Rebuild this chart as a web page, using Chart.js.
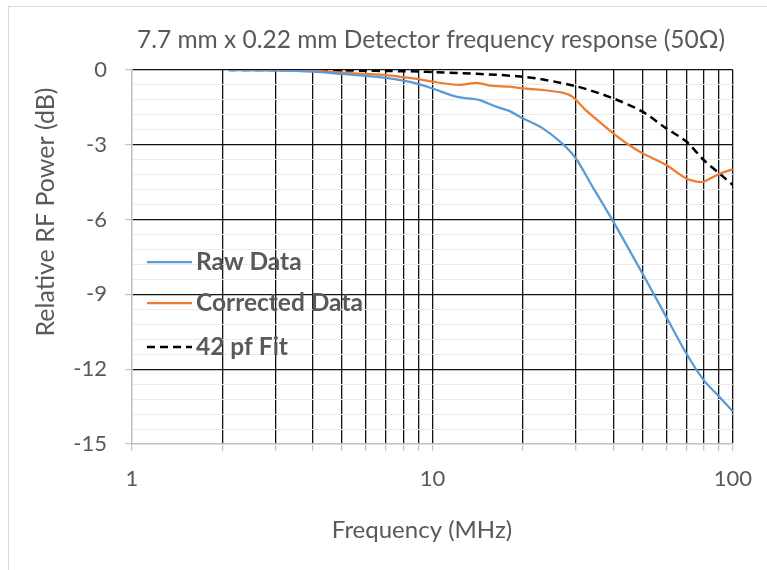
<!DOCTYPE html>
<html>
<head>
<meta charset="utf-8">
<script src="https://cdn.jsdelivr.net/npm/chart.js@4.4.1/dist/chart.umd.min.js"></script>
<style>
  html, body { margin: 0; padding: 0; background: #fff; }
  #wrap { width: 767px; height: 570px; }
</style>
</head>
<body>
<div id="wrap"><canvas id="chart" width="767" height="570"></canvas></div>
<script>
// --- Data (frequency in MHz, response in dB) ---
const rawFreq = [2.1, 3, 4, 5, 6, 7, 8, 9, 10, 12, 13.6, 14.3, 16.3, 18, 20, 23.3, 27, 30, 34.1, 40, 50, 60, 70, 80, 90, 100];
const rawDb = [0, -0.02, -0.07, -0.16, -0.24, -0.32, -0.43, -0.57, -0.74, -1.07, -1.16, -1.2, -1.47, -1.64, -1.94, -2.34, -2.94, -3.54, -4.68, -6.08, -8.16, -9.9, -11.37, -12.44, -13.1, -13.7];

const corrFreq = [2.1, 3, 4, 5, 6, 7, 8, 9, 10, 12.3, 14, 15.9, 18, 20, 23.3, 27, 29.2, 32.3, 35.9, 40, 45, 50, 60, 70, 78.3, 81, 90, 100];
const corrDb = [0, -0.01, -0.03, -0.11, -0.16, -0.21, -0.29, -0.37, -0.47, -0.6, -0.52, -0.64, -0.67, -0.74, -0.8, -0.91, -1.07, -1.6, -2.07, -2.54, -3.0, -3.34, -3.81, -4.35, -4.5, -4.45, -4.17, -3.98];

const fitFreq = [2.1, 3, 4, 5, 6, 7, 8, 9, 10, 20, 30, 40, 50, 60, 70, 80, 90, 100];
const fitDb = [0, 0, -0.01, -0.02, -0.03, -0.04, -0.05, -0.06, -0.08, -0.27, -0.65, -1.14, -1.67, -2.34, -2.87, -3.61, -4.14, -4.61];

const xGridValues = [1, 2, 3, 4, 5, 6, 7, 8, 9, 10, 20, 30, 40, 50, 60, 70, 80, 90, 100];
const xTickLabels = [1, 10, 100];
const yMajorStep = 3;
const yMinorStep = 0.6;

const seriesNames = ['Raw Data', 'Corrected Data', '42 pf Fit'];
const chartTitle = '7.7 mm x 0.22 mm Detector frequency response (50Ω)';
const xTitle = 'Frequency (MHz)';
const yTitle = 'Relative RF Power (dB)';

const textColor = '#595959';
const fontFamily = 'Lato, "Open Sans", sans-serif';

function toPoints(xs, ys) {
    return xs.map((x, i) => ({ x: x, y: ys[i] }));
}

function isMajor(v) {
    return Math.abs(v / yMajorStep - Math.round(v / yMajorStep)) < 1e-6;
}

// legend drawn inside the plot area, at the left
const innerLegend = {
    id: 'innerLegend',
    afterDatasetsDraw(chart) {
        const c = chart.ctx;
        const rows = [262, 303, 347];
        c.save();
        chart.data.datasets.forEach((ds, i) => {
            const y = rows[i];
            c.beginPath();
            c.strokeStyle = ds.borderColor;
            c.lineWidth = ds.borderWidth;
            c.setLineDash(ds.borderDash || []);
            c.moveTo(147, y);
            c.lineTo(192, y);
            c.stroke();
            c.setLineDash([]);
            c.fillStyle = textColor;
            c.font = 'bold 24.5px ' + fontFamily;
            c.textBaseline = 'middle';
            c.textAlign = 'left';
            c.fillText(ds.label, 196, y);
        });
        c.restore();
    }
};

// frame, chart title and axis titles
const decorations = {
    id: 'decorations',
    beforeDraw(chart) {
        const c = chart.ctx;
        c.save();
        c.fillStyle = '#fff';
        c.fillRect(0, 0, chart.width, chart.height);
        c.strokeStyle = '#d9d9d9';
        c.lineWidth = 1;
        c.strokeRect(8.5, 6.5, 900, 700);
        c.restore();
    },
    afterDraw(chart) {
        const c = chart.ctx;
        c.save();
        c.fillStyle = textColor;
        c.textAlign = 'center';
        c.textBaseline = 'middle';
        c.font = '24.5px ' + fontFamily;
        c.fillText(chartTitle, 431, 40);
        c.font = '24px ' + fontFamily;
        c.fillText(xTitle, 422, 530);
        c.translate(46, 212);
        c.rotate(-Math.PI / 2);
        c.font = '25px ' + fontFamily;
        c.fillText(yTitle, 0, 0);
        c.restore();
    }
};

const ctx = document.getElementById('chart').getContext('2d');
const chart = new Chart(ctx, {
    type: 'line',
    data: {
        datasets: [
            {
                label: seriesNames[0],
                data: toPoints(rawFreq, rawDb),
                borderColor: '#5b9bd5',
                borderWidth: 2.25,
                pointRadius: 0,
                tension: 0.3,
                fill: false
            },
            {
                label: seriesNames[1],
                data: toPoints(corrFreq, corrDb),
                borderColor: '#ed7d31',
                borderWidth: 2.25,
                pointRadius: 0,
                tension: 0.3,
                fill: false
            },
            {
                label: seriesNames[2],
                data: toPoints(fitFreq, fitDb),
                borderColor: '#000000',
                borderWidth: 2.5,
                borderDash: [8, 5],
                pointRadius: 0,
                tension: 0.3,
                fill: false
            }
        ]
    },
    options: {
        responsive: false,
        animation: false,
        layout: { padding: { left: 0, right: 33, top: 70, bottom: 0 } },
        plugins: {
            legend: { display: false },
            tooltip: { enabled: false },
            title: { display: false }
        },
        scales: {
            x: {
                type: 'logarithmic',
                min: 1,
                max: 100,
                afterBuildTicks: (scale) => {
                    scale.ticks = xGridValues.map(v => ({ value: v }));
                },
                afterFit: (scale) => { scale.height = 126; },
                ticks: {
                    autoSkip: false,
                    maxRotation: 0,
                    padding: 15,
                    color: textColor,
                    font: { family: fontFamily, size: 22 },
                    callback: (v) => xTickLabels.includes(v) ? String(v) : ''
                },
                grid: {
                    color: (c) => c.tick && c.tick.value === 1 ? 'rgba(0,0,0,0)' : '#111111',
                    lineWidth: 1.3,
                    tickColor: '#c8c8c8',
                    tickLength: 7
                },
                border: { color: '#bfbfbf', width: 1.5 }
            },
            y: {
                type: 'linear',
                min: -15,
                max: 0,
                afterFit: (scale) => { scale.width = 132; },
                ticks: {
                    stepSize: yMinorStep,
                    autoSkip: false,
                    padding: 18,
                    color: textColor,
                    font: { family: fontFamily, size: 22 },
                    callback: (v) => isMajor(v) ? String(Math.round(v)) : ''
                },
                grid: {
                    color: (c) => {
                        const v = c.tick ? c.tick.value : 0;
                        if (Math.abs(v + 15) < 1e-6) return 'rgba(0,0,0,0)';
                        return isMajor(v) ? '#111111' : '#ebebeb';
                    },
                    lineWidth: (c) => (c.tick && isMajor(c.tick.value)) ? 1.3 : 1,
                    tickColor: (c) => (c.tick && isMajor(c.tick.value)) ? '#c8c8c8' : 'rgba(0,0,0,0)',
                    tickLength: 7
                },
                border: { color: '#bfbfbf', width: 1.5 }
            }
        }
    },
    plugins: [decorations, innerLegend]
});
</script>
</body>
</html>
